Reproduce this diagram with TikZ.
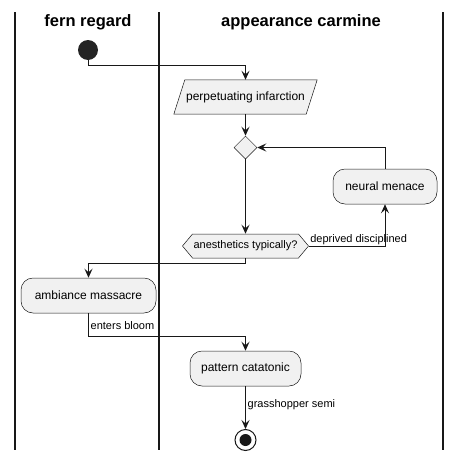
\documentclass[tikz,border=0pt]{standalone}
\usepackage{fontspec}
\setmainfont{Liberation Sans}
\usetikzlibrary{arrows.meta, shapes.geometric, shapes.symbols}

\definecolor{ink}{HTML}{181818}
\definecolor{boxfill}{HTML}{F1F1F1}

\tikzset{
  flow/.style={draw=ink, line width=1pt, -{Stealth[length=9pt, width=8pt, inset=3.5pt]}},
  lane/.style={draw=ink, line width=1.2pt},
  lanetitle/.style={font=\fontsize{16.5}{18}\selectfont\bfseries},
  activity/.style={draw=ink, line width=0.5pt, fill=boxfill, rounded corners=12pt,
    minimum height=35pt, inner xsep=0pt, font=\fontsize{12}{14}\selectfont},
  inputbox/.style={minimum width=132pt, minimum height=34pt, inner sep=0pt,
    font=\fontsize{12}{14}\selectfont},
  slanted/.style={draw=ink, line width=0.5pt, fill=boxfill},
  merge/.style={diamond, draw=ink, line width=0.5pt, fill=boxfill,
    minimum width=23pt, minimum height=23pt, inner sep=0pt},
  check/.style={signal, signal to=east and west, signal pointer angle=100,
    draw=ink, line width=0.5pt, fill=boxfill, minimum height=24pt, inner xsep=1pt,
    font=\fontsize{11}{13}\selectfont},
  flowlabel/.style={font=\fontsize{11}{13}\selectfont, inner sep=1pt}
}

\begin{document}
\begin{tikzpicture}[x=1pt, y=-1pt]
  \useasboundingbox (0,0) rectangle (458,461);

  % swimlanes
  \draw[lane] (15,12) -- (15,450);
  \draw[lane] (159,12) -- (159,450);
  \draw[lane] (443,12) -- (443,450);
  \node[lanetitle] (fern) at (88,22) {fern regard};
  \node[lanetitle] (carmine) at (301,22) {appearance carmine};

  % input parallelogram drawn round its text node
  \path (245.5,97) node[inputbox] (input) {};
  \draw[slanted] ([xshift=-5.5pt]input.south west) -- ([xshift=5.5pt]input.north west)
    -- ([xshift=5.5pt]input.north east) -- ([xshift=-5.5pt]input.south east) -- cycle;
  \node[font=\fontsize{12}{14}\selectfont] (inputtext) at (input) {perpetuating infarction};

  % nodes
  \node[circle, fill=ink!95, minimum size=20pt, inner sep=0pt] (start) at (88,50) {};
  \node[merge] (loop) at (245.5,147.5) {};
  \node[activity, minimum width=104pt] (menace) at (385,186.5) {neural menace};
  \node[check] (query) at (245.5,246) {anesthetics typically?};
  \node[activity, minimum width=135pt] (ambiance) at (88.5,295.5) {ambiance massacre};
  \node[activity, minimum width=111pt] (pattern) at (245.5,368.5) {pattern catatonic};
  \node[circle, draw=ink, line width=1pt, fill=white, minimum size=21pt, inner sep=0pt] (stop) at (245.5,440) {};
  \node[circle, fill=ink, minimum size=12pt, inner sep=0pt] (stopdot) at (stop) {};

  % connectors
  \draw[flow] (start.south) -- ++(0,5.5) -| (input.north);
  \draw[flow] (input.south) -- (loop.north);
  \draw[flow] (loop.south) -- (query.north);
  \draw[flow] (query.east) -| (menace.south)
    node[flowlabel, anchor=south west, pos=0] {deprived disciplined};
  \draw[flow] (menace.north) |- (loop.east);
  \draw[flow] (query.south) -- ++(0,5) -| (ambiance.north);
  \draw[flow] (ambiance.south) -- ++(0,23.5) -| (pattern.north);
  \node[flowlabel, anchor=west] (bloom) at (89.5,326) {enters bloom};
  \draw[flow] (pattern.south) -- (stop.north);
  \node[flowlabel, anchor=west] (semi) at (246.5,405) {grasshopper semi};
\end{tikzpicture}
\end{document}
